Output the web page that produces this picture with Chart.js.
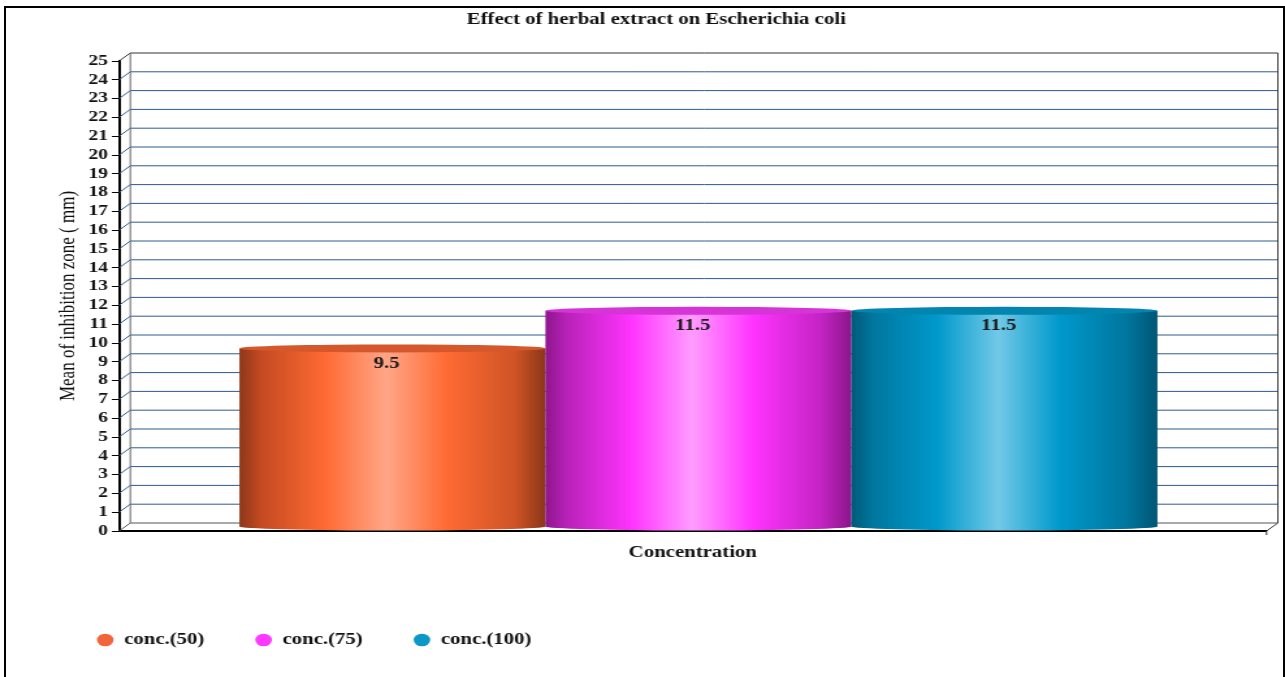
<!DOCTYPE html>
<html>
<head>
<meta charset="utf-8">
<title>Effect of herbal extract on Escherichia coli</title>
<script src="https://cdn.jsdelivr.net/npm/chart.js@4.4.1/dist/chart.umd.min.js"></script>
<style>
  html, body { margin: 0; padding: 0; background: #fff; overflow: hidden; }
  /* the source picture is stretched sideways, so draw narrow and widen it */
  #wrap { position: absolute; left: 0; top: 0; width: 988px; height: 677px; transform: scaleX(1.3006); transform-origin: 0 0; }
  #frame { position: absolute; left: 4px; top: 6px; width: 1277px; height: 700px; border: 2px solid #000; pointer-events: none; }
</style>
</head>
<body>
<div id="wrap"><canvas id="chart"></canvas></div>
<div id="frame"></div>
<script>
const categories = ['Concentration'];
const seriesNames = ['conc.(50)', 'conc.(75)', 'conc.(100)'];
const conc50 = [9.5];
const conc75 = [11.5];
const conc100 = [11.5];
const yMin = 0;
const yMax = 25;
const yStep = 1;

const legendColors = ['#f2643a', '#ff38ff', '#0b98c8'];
const topColors = ['#d4582c', '#d634d6', '#0285ae'];
const gradStops = [0, 0.07, 0.28, 0.48, 0.68, 0.9, 1];
const bodyColors = [
  ['#8c381a', '#c44a22', '#ff6a33', '#ffa688', '#ff6a33', '#cf5426', '#8a3719'],
  ['#8e168e', '#b822b8', '#ff33ff', '#ff9cff', '#ff33ff', '#c424c4', '#8a168a'],
  ['#005a78', '#00779f', '#0099cc', '#72c9e7', '#0099cc', '#00769e', '#005674'],
];

const FONT = '"Liberation Serif", "Times New Roman", serif';
const DX = 8.7; // depth offset of the back wall
const DY = 8;

const depth3d = {
  id: 'depth3d',
  beforeDatasetsDraw(chart) {
    const { ctx, chartArea: a, scales: { y } } = chart;
    ctx.save();
    ctx.lineWidth = 1;
    y.ticks.forEach((t) => {
      const py = y.getPixelForValue(t.value);
      ctx.strokeStyle = t.value === yMax ? '#333' : (t.value === yMin ? '#555' : '#2d5a8c');
      ctx.beginPath();
      ctx.moveTo(a.left, py);
      ctx.lineTo(a.left + DX, py - DY);
      ctx.lineTo(a.right + DX, py - DY);
      ctx.stroke();
    });
    ctx.strokeStyle = '#666';
    ctx.beginPath();
    ctx.moveTo(a.left + DX, a.top - DY);
    ctx.lineTo(a.left + DX, a.bottom - DY);
    ctx.stroke();
    ctx.strokeStyle = '#333';
    ctx.beginPath();
    ctx.moveTo(a.right + DX, a.top - DY);
    ctx.lineTo(a.right + DX, a.bottom - DY);
    ctx.lineTo(a.right, a.bottom);
    ctx.lineTo(a.right, a.bottom + 4);
    ctx.stroke();
    ctx.restore();
  },
  beforeDatasetDraw() {
    return false; // bars are drawn as cylinders below
  },
  afterDatasetsDraw(chart) {
    const { ctx } = chart;
    ctx.save();
    chart.data.datasets.forEach((ds, i) => {
      const meta = chart.getDatasetMeta(i);
      meta.data.forEach((bar, j) => {
        const { x, y, base, width } = bar.getProps(['x', 'y', 'base', 'width'], true);
        const cx = x + DX / 2;
        const top = y - DY / 2;
        const bottom = base - DY / 2;
        const x0 = cx - width / 2;
        const x1 = cx + width / 2;
        const ry = 4;

        const g = ctx.createLinearGradient(x0, 0, x1, 0);
        gradStops.forEach((s, k) => g.addColorStop(s, bodyColors[i][k]));
        ctx.fillStyle = g;
        ctx.beginPath();
        ctx.moveTo(x0, top);
        ctx.lineTo(x0, bottom);
        ctx.ellipse(cx, bottom, width / 2, ry, 0, Math.PI, 0, true);
        ctx.lineTo(x1, top);
        ctx.closePath();
        ctx.fill();

        ctx.fillStyle = topColors[i];
        ctx.beginPath();
        ctx.ellipse(cx, top, width / 2, ry, 0, 0, Math.PI * 2);
        ctx.fill();

        ctx.fillStyle = '#1a1a1a';
        ctx.font = 'bold 16px ' + FONT;
        ctx.textAlign = 'center';
        ctx.textBaseline = 'middle';
        ctx.fillText(String(ds.data[j]), x, top + 15);
      });
    });
    ctx.restore();
  },
};

new Chart(document.getElementById('chart'), {
  type: 'bar',
  data: {
    labels: categories,
    datasets: [conc50, conc75, conc100].map((vals, i) => ({
      label: seriesNames[i],
      data: vals,
      backgroundColor: legendColors[i],
      borderWidth: 0,
      categoryPercentage: 0.8,
      barPercentage: 1,
    })),
  },
  options: {
    responsive: true,
    maintainAspectRatio: false,
    animation: false,
    layout: { padding: { left: 35.4, right: 14.2, top: 0, bottom: 19 } },
    scales: {
      x: {
        grid: { display: false },
        border: { display: true, color: '#000', width: 2 },
        ticks: { color: '#111', padding: 4, font: { family: FONT, size: 16, weight: 'bold' } },
        afterFit(scale) { scale.height = 62; },
      },
      y: {
        min: yMin,
        max: yMax,
        ticks: { stepSize: yStep, autoSkip: false, color: '#111', padding: 3, font: { family: FONT, size: 15, weight: 'bold' } },
        grid: { drawOnChartArea: false, drawTicks: true, tickLength: 5.5, color: '#000' },
        border: { display: true, color: '#000', width: 2 },
        title: {
          display: true,
          text: 'Mean of inhibition zone ( mm)',
          color: '#111',
          padding: { top: 6.7, bottom: 0 },
          font: { family: FONT, size: 17 },
        },
        afterFit(scale) { scale.width = 56.1; },
      },
    },
    plugins: {
      title: {
        display: true,
        text: 'Effect of herbal extract on Escherichia coli',
        color: '#111',
        padding: { top: 10, bottom: 31.8 },
        font: { family: FONT, size: 16, weight: 'bold' },
      },
      legend: {
        position: 'bottom',
        align: 'start',
        labels: {
          usePointStyle: true,
          pointStyle: 'circle',
          boxWidth: 13,
          boxHeight: 9,
          padding: 39,
          color: '#111',
          font: { family: FONT, size: 16, weight: 'bold' },
        },
      },
      tooltip: { enabled: false },
    },
  },
  plugins: [depth3d],
});
</script>
</body>
</html>
